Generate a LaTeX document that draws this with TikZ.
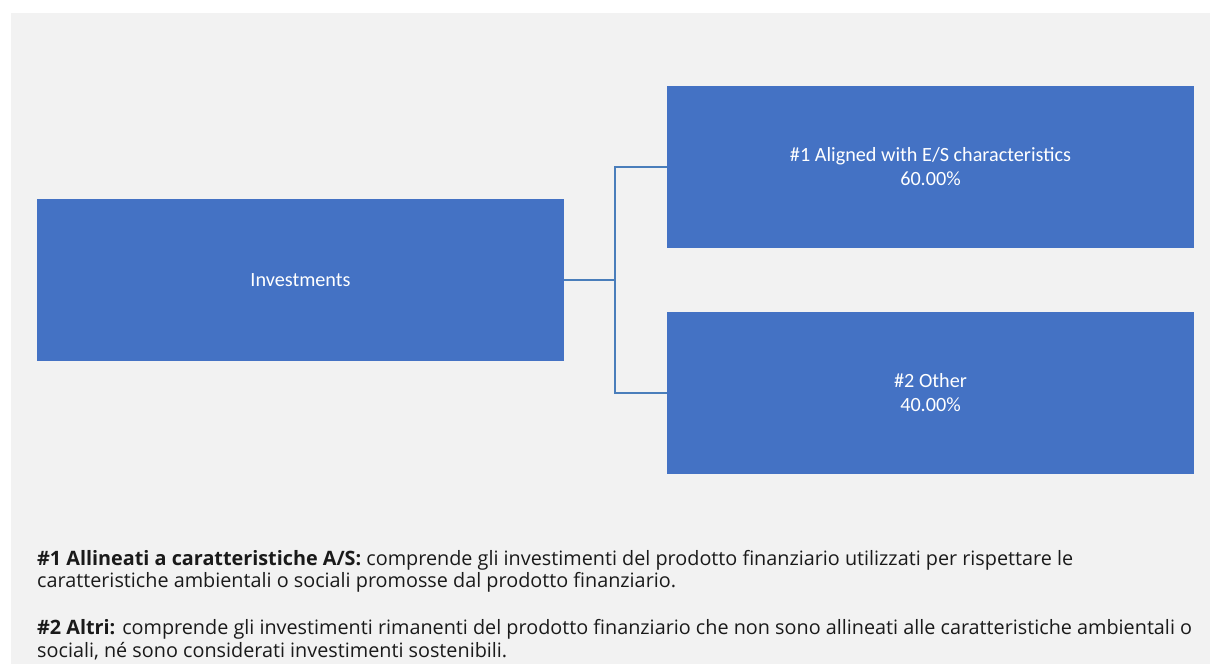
\documentclass[tikz,border=0pt]{standalone}
\usepackage{fontspec}
\setmainfont{Open Sans}
\newfontfamily\boxfont{Carlito}
\definecolor{boxblue}{HTML}{4472C4}
\definecolor{linkblue}{HTML}{4A7EBB}
\definecolor{bggray}{HTML}{F2F2F2}
\definecolor{notetext}{HTML}{1A1A1A}
\tikzset{
  box/.style={fill=boxblue,draw=none,minimum width=527pt,minimum height=162pt,
    inner sep=0pt,align=center,text=white,font=\boxfont\fontsize{20.2}{24}\selectfont},
  link/.style={draw=linkblue,line width=2pt},
  note/.style={anchor=base west,inner sep=0pt,align=left,text=notetext,
    font=\fontsize{19.8}{22.5}\selectfont}
}
\begin{document}
\begin{tikzpicture}[x=1pt,y=-1pt]
			\useasboundingbox (0,0) rectangle (1210,664);
			\fill[white] (0,0) rectangle (1210,664);
			\fill[bggray] (11,13) rectangle (1210,664);
			\node[box] (inv) at (300.5,280) {Investments};
			\node[box] (al) at (930.5,166.5) {\#1 Aligned with E/S characteristics\\60.00\%};
			\node[box] (ot) at (930.5,393) {\#2 Other\\40.00\%};
			\coordinate (fork) at (615,280);
			\draw[link] (inv.east) -- (fork);
			\draw[link] (al.west) -| (fork) |- (ot.west);
			% last-line baselines
			\node[note] (n1) at (37,587.5) {\textbf{\#1 Allineati a caratteristiche A/S:} comprende gli investimenti del prodotto finanziario utilizzati per rispettare le\\caratteristiche ambientali o sociali promosse dal prodotto finanziario.};
			\node[note] (n2) at (37,657) {\textbf{\#2 Altri:} comprende gli investimenti rimanenti del prodotto finanziario che non sono allineati alle caratteristiche ambientali o\\sociali, né sono considerati investimenti sostenibili.};
\end{tikzpicture}
\end{document}
